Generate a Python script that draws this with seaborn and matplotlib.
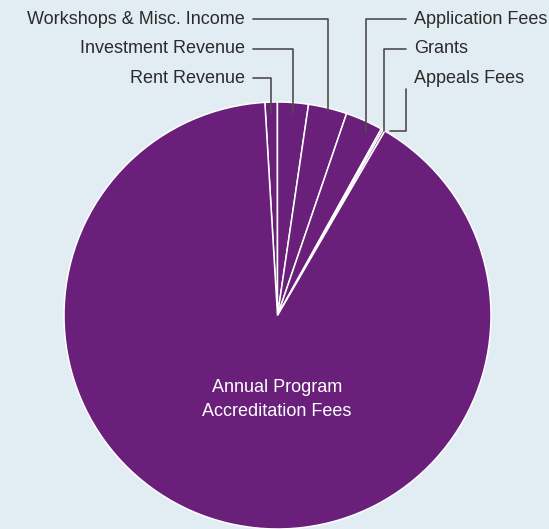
import numpy as np
import matplotlib
matplotlib.use("Agg")
import matplotlib.pyplot as plt
import seaborn as sns

# revenue shares (percent), clockwise from the top
categories = ["Rent Revenue", "Investment Revenue", "Workshops & Misc. Income",
              "Application Fees", "Grants", "Appeals Fees",
              "Annual Program\nAccreditation Fees"]
values = [0.94, 2.33, 2.92, 2.83, 0.14, 0.17, 90.67]

left_labels = ["Workshops & Misc. Income", "Investment Revenue", "Rent Revenue"]
right_labels = ["Application Fees", "Grants", "Appeals Fees"]

sns.set_style("white")
plt.rcParams["font.family"] = ["Liberation Sans", "DejaVu Sans"]

bg = "#e1ecf3"
purple = "#6a1f7a"
lead = "#4d4d4d"
fs = 13

W, H = 549, 529
cx, cy, R = 277.5, 315.5, 213.5  # pie centre / radius in pixels

fig = plt.figure(figsize=(W / 100, H / 100), dpi=100, facecolor=bg)
ax = fig.add_axes([(cx - R) / W, (H - cy - R) / H, 2 * R / W, 2 * R / H])
ax.set_facecolor(bg)

wedges, _ = ax.pie(values, colors=[purple] * len(values), startangle=93.4,
                   counterclock=False, radius=1,
                   wedgeprops=dict(edgecolor="white", linewidth=1.1))
ax.set_xlim(-1, 1)
ax.set_ylim(-1, 1)
ax.set_aspect("equal")
ax.axis("off")


def px(x, y):
    return (x - cx) / R, (cy - y) / R


def mid_x(i):
    w = wedges[i]
    a = np.deg2rad((w.theta1 + w.theta2) / 2)
    return np.cos(a)


idx = {c: i for i, c in enumerate(categories)}
rows = [19, 48.5, 78]

# left side labels
for lab, y in zip(left_labels, rows):
    xm = mid_x(idx[lab])
    x0, yy = px(253, y)
    _, yend = px(0, 113)
    ax.plot([x0, xm, xm], [yy, yy, yend], color=lead, lw=1.2,
            clip_on=False, zorder=5)
    tx, ty = px(245, y)
    ax.text(tx, ty, lab, ha="right", va="center", fontsize=fs, color="#2b2b2b")

# right side labels
for lab, y in zip(right_labels[:2], rows[:2]):
    xm = mid_x(idx[lab]) + 2 / R
    x0, yy = px(406, y)
    _, yend = px(0, 130.5)
    ax.plot([x0, xm, xm], [yy, yy, yend], color=lead, lw=1.2,
            clip_on=False, zorder=5)
    tx, ty = px(414, y)
    ax.text(tx, ty, lab, ha="left", va="center", fontsize=fs, color="#2b2b2b")

lab = right_labels[2]
xa, ya = px(406, 89)
_, yb = px(0, 130.5)
xm = mid_x(idx[lab]) + 6 / R
ax.plot([xa, xa, xm], [ya, yb, yb], color=lead, lw=1.2, clip_on=False, zorder=5)
tx, ty = px(414, rows[2])
ax.text(tx, ty, lab, ha="left", va="center", fontsize=fs, color="#2b2b2b")

# label inside the big slice
tx, ty = px(277, 399.5)
ax.text(tx, ty, categories[-1], ha="center", va="center", fontsize=fs,
        color="white", linespacing=1.55)

fig.savefig("out.png", dpi=100, facecolor=bg)
